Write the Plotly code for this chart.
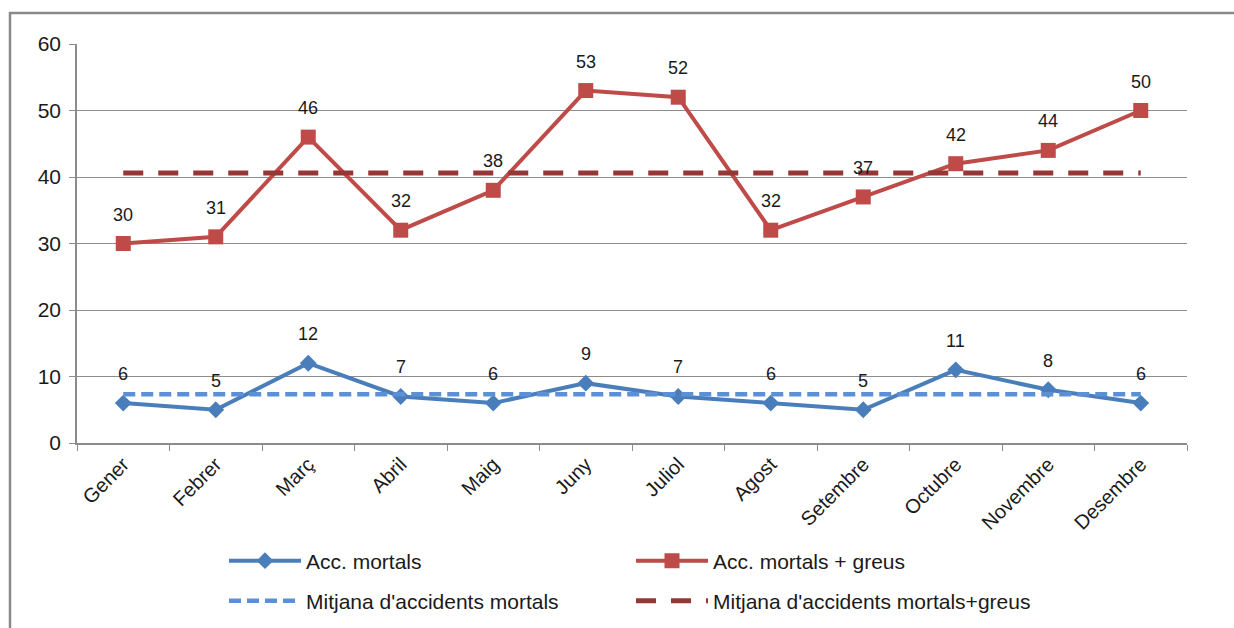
import plotly.graph_objects as go

# Monthly road accident counts
months = ["Gener", "Febrer", "Març", "Abril", "Maig", "Juny",
          "Juliol", "Agost", "Setembre", "Octubre", "Novembre", "Desembre"]
fatal = [6, 5, 12, 7, 6, 9, 7, 6, 5, 11, 8, 6]
fatal_serious = [30, 31, 46, 32, 38, 53, 52, 32, 37, 42, 44, 50]
y_ticks = [0, 10, 20, 30, 40, 50, 60]

fatal_mean = sum(fatal) / len(fatal)
fatal_serious_mean = sum(fatal_serious) / len(fatal_serious)

BLUE = "#4A7EBB"
RED = "#BE4B48"
BLUE_MEAN = "#5B8FD6"
RED_MEAN = "#953735"
GRID = "#8C8C8C"
FONT = "Liberation Sans, Arial, sans-serif"
TXT = "#1A1A1A"

fig = go.Figure()

fig.add_trace(go.Scatter(
    x=months, y=fatal, name="Acc. mortals", mode="lines+markers",
    line=dict(color=BLUE, width=4),
    marker=dict(symbol="diamond", size=13, color=BLUE),
    legend="legend",
))
fig.add_trace(go.Scatter(
    x=months, y=fatal_serious, name="Acc. mortals + greus", mode="lines+markers",
    line=dict(color=RED, width=4),
    marker=dict(symbol="square", size=15, color=RED),
    legend="legend",
))
fig.add_trace(go.Scatter(
    x=months, y=[fatal_mean] * len(months), name="Mitjana d'accidents mortals",
    mode="lines", line=dict(color=BLUE_MEAN, width=4.5, dash="12px,6px"),
    legend="legend2",
))
fig.add_trace(go.Scatter(
    x=months, y=[fatal_serious_mean] * len(months),
    name="Mitjana d'accidents mortals+greus",
    mode="lines", line=dict(color=RED_MEAN, width=5, dash="20px,15px"),
    legend="legend2",
))

# Value labels above every point
annotations = []
for series in (fatal, fatal_serious):
    for m, v in zip(months, series):
        annotations.append(dict(
            x=m, y=v, text=str(v), showarrow=False, yshift=29,
            font=dict(family=FONT, size=18, color=TXT),
        ))

legend_common = dict(
    orientation="h", xref="container", yref="container",
    xanchor="left", yanchor="middle", entrywidth=320, entrywidthmode="pixels",
    itemwidth=72, font=dict(family=FONT, size=21, color=TXT),
    bgcolor="rgba(0,0,0,0)", tracegroupgap=0,
)

fig.update_layout(
    width=1234, height=628,
    margin=dict(l=77, r=47, t=44, b=185),
    paper_bgcolor="white", plot_bgcolor="white",
    font=dict(family=FONT, size=18, color=TXT),
    showlegend=True,
    legend=dict(x=224 / 1234, y=1 - 561 / 628, **legend_common),
    legend2=dict(x=224 / 1234, y=1 - 601 / 628, **legend_common),
    annotations=annotations,
    shapes=[dict(
        type="rect", xref="paper", yref="paper",
        x0=(10 - 77) / 1110, x1=1.3, y0=-0.6, y1=(443 - 13) / 399,
        line=dict(color="#8A8A8A", width=2.5), layer="below",
    )],
)

fig.update_xaxes(
    type="category", categoryorder="array", categoryarray=months,
    range=[-0.5, 11.5], tickangle=-45, tickson="boundaries",
    ticks="outside", ticklen=6, tickcolor=GRID, automargin=False,
    showline=True, linecolor=GRID, linewidth=1.5,
    showgrid=False, tickfont=dict(family=FONT, size=20, color=TXT),
)
fig.update_yaxes(
    range=[0, 60], tickvals=y_ticks, ticks="outside", ticklen=6, tickcolor=GRID,
    showline=True, linecolor=GRID, linewidth=1.5, ticklabelstandoff=4,
    automargin=False,
    showgrid=True, gridcolor=GRID, gridwidth=1, zeroline=False,
    tickfont=dict(family=FONT, size=21, color=TXT),
)

fig.write_html("out.html")
